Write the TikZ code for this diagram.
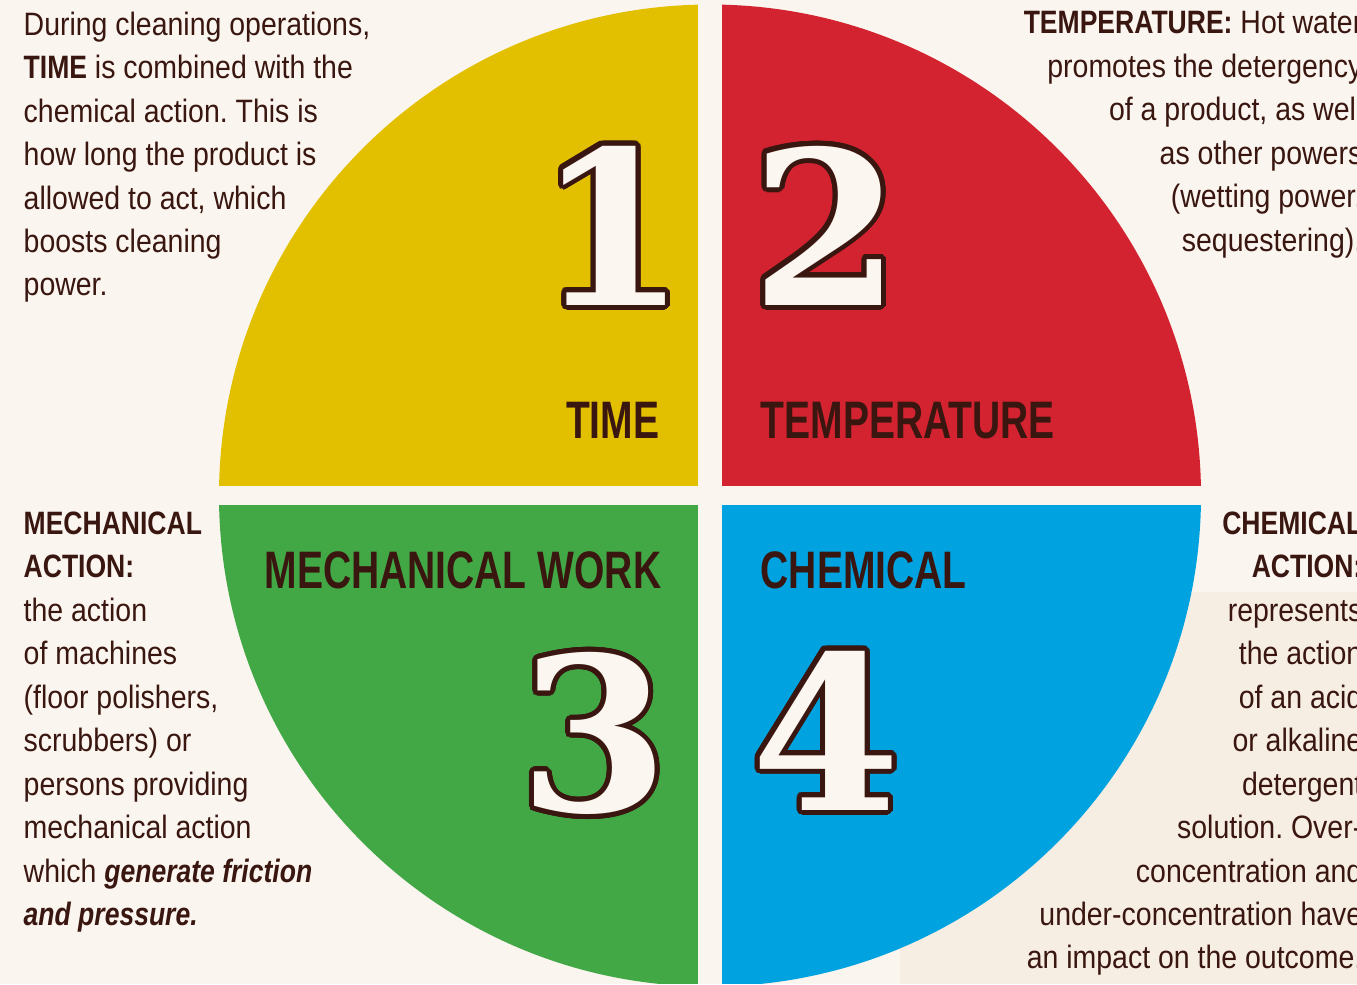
\documentclass[tikz,border=0pt]{standalone}
\usepackage{fontspec}
\setmainfont{Liberation Sans}[FakeStretch=0.88]
\newfontfamily\headfont{Liberation Sans}[FakeStretch=0.82]
\newfontfamily\labelfont{Liberation Sans}[FakeStretch=0.74]
\newfontfamily\numfont{DejaVu Serif}
\usepackage[copies]{contour}
\contourlength{1.4pt}
\contournumber{24}
\frenchspacing

\definecolor{paper}{HTML}{FAF5EF}
\definecolor{paperlow}{HTML}{F7EEE3}
\definecolor{ink}{HTML}{3A1610}
\definecolor{timeyellow}{HTML}{E2C000}
\definecolor{tempred}{HTML}{D42330}
\definecolor{mechgreen}{HTML}{42A846}
\definecolor{chemblue}{HTML}{00A3E0}
\definecolor{digitwhite}{HTML}{FBF7F0}

\newcommand{\hd}[1]{{\headfont\bfseries #1}}
\newcommand{\hdit}[1]{{\headfont\bfseries\itshape #1}}
\newcommand{\bignum}[1]{\contour{ink}{\textcolor{digitwhite}{#1}}}

\tikzset{
  body/.style={font=\fontsize{9.2}{12.36}\selectfont, text=ink, inner sep=0pt},
  quadtext/.style={font=\labelfont\bfseries\fontsize{15}{18}\selectfont, text=ink, inner sep=0pt},
  bigdigit/.style={font=\numfont\bfseries\fontsize{61}{61}\selectfont, inner sep=0pt},
}

\begin{document}
\begin{tikzpicture}[x=0.01cm,y=-0.01cm]
  \useasboundingbox (0,0) rectangle (1357,984);
  \clip (0,0) rectangle (1357,984);
  \fill[paper] (0,0) rectangle (1357,984);
  \fill[paperlow] (900,592) rectangle (1357,984);

  % the four quarters
  \begin{scope}
    \clip (710,495.5) circle[radius=491];
    \fill[timeyellow] (0,0) rectangle (698,486);
    \fill[tempred] (722,0) rectangle (1357,486);
    \fill[mechgreen] (0,505) rectangle (698,984);
    \fill[chemblue] (722,505) rectangle (1357,984);
  \end{scope}

  % numbers
  \node[bigdigit] (one) at (612,228) {\bignum{1}};
  \node[bigdigit] (two) at (826,228) {\bignum{2}};
  \node[bigdigit] (three) at (594,736) {\bignum{3}};
  \node[bigdigit] (four) at (826,733) {\bignum{4}};

  % quarter titles
  \node[quadtext, anchor=base east] (timelabel) at (660,438) {TIME};
  \node[quadtext, anchor=base west] (templabel) at (760,438) {TEMPERATURE};
  \node[quadtext, anchor=base east] (mechlabel) at (662,588) {MECHANICAL WORK};
  \node[quadtext, anchor=base west] (chemlabel) at (760,588) {CHEMICAL};

  % side texts
  \node[body, anchor=north west, align=left] (timetext) at (23,11)
    {During cleaning operations,\\ \hd{TIME} is combined with the\\ chemical action. This is\\
     how long the product is\\ allowed to act, which\\ boosts cleaning\\ power.};
  \node[body, anchor=north east, align=right] (temptext) at (1363,11)
    {\hd{TEMPERATURE:} Hot water\\ promotes the detergency\\ of a product, as well\\
     as other powers\\ (wetting power,\\ sequestering).};
  \node[body, anchor=north west, align=left] (mechtext) at (23,511)
    {\hd{MECHANICAL}\\ \hd{ACTION:}\\ the action\\ of machines\\ (floor polishers,\\
     scrubbers) or\\ persons providing\\ mechanical action\\
     which \hdit{generate friction}\\ \hdit{and pressure.}};
  \node[body, anchor=north east, align=right] (chemtext) at (1363,511)
    {\hd{CHEMICAL}\\ \hd{ACTION:}\\ represents\\ the action\\ of an acid\\ or alkaline\\
     detergent\\ solution. Over-\\ concentration and\\ under-concentration have\\
     an impact on the outcome.};
\end{tikzpicture}
\end{document}
